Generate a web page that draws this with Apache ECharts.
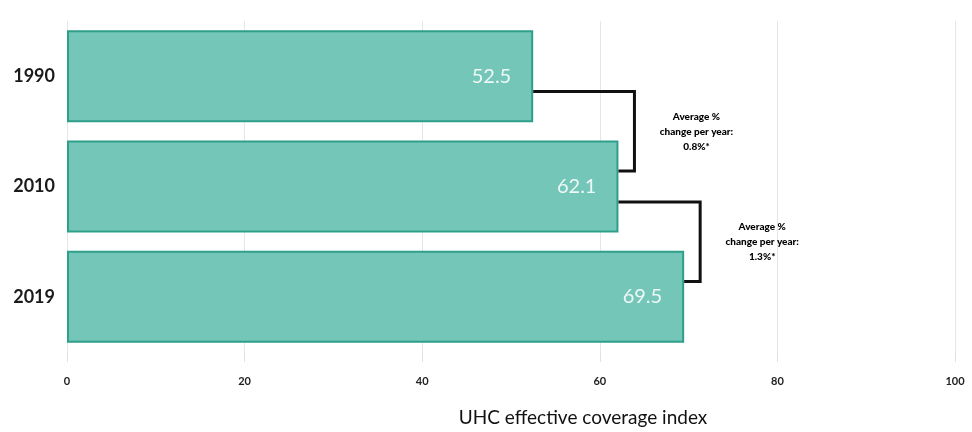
<!DOCTYPE html>
<html lang="en">
	<head>
		<meta charset="UTF-8">
		<title>UHC effective coverage index</title>
		<style>
			html, body { margin: 0; padding: 0; background: #fff; }
		</style>
	</head>
	<body>
		<div id="main" style="width:972px; height:432px;"></div>
		<script src="https://cdn.jsdelivr.net/npm/echarts@6/dist/echarts.min.js"></script>
		<script type="text/javascript">
			// data
			var years = ['1990', '2010', '2019'];
			var coverage = [52.5, 62.1, 69.5];
			var avgChange = ['0.8%*', '1.3%*'];
			var xTicks = [0, 20, 40, 60, 80, 100];

			// one bracket per pair of neighbouring years
			var brackets = avgChange.map(function (t, i) {
				return [coverage[i], coverage[i + 1], i];
			});

			var myChart = echarts.init(document.getElementById('main'));

			function renderBracket(params, api) {
				var a = api.coord([api.value(0), api.value(2)]);
				var b = api.coord([api.value(1), api.value(2) + 1]);
				var band = api.size([0, 1])[1];
				var dy = band * 0.14;
				var xr = Math.max(a[0], b[0]) + 16;
				var y1 = a[1] + dy;
				var y2 = b[1] - dy;
				return {
					type: 'group',
					children: [{
						type: 'polyline',
						shape: { points: [[a[0], y1], [xr, y1], [xr, y2], [b[0], y2]] },
						style: { stroke: '#111', lineWidth: 3, fill: null }
					}, {
						type: 'text',
						x: xr + 62,
						y: (y1 + y2) / 2,
						style: {
							text: 'Average %\nchange per year:\n' + avgChange[params.dataIndex],
							align: 'center',
							verticalAlign: 'middle',
							fontFamily: 'Lato',
							fontWeight: 900,
							fontSize: 10,
							lineHeight: 15,
							fill: '#000'
						}
					}]
				};
			}

			myChart.setOption({
				backgroundColor: '#fff',
				animation: false,
				textStyle: { fontFamily: 'Lato' },
				grid: { left: 67, right: 17, top: 21, bottom: 78 },
				xAxis: {
					type: 'value',
					min: 0,
					max: 100,
					interval: 20,
					name: 'UHC effective coverage index',
					nameLocation: 'middle',
					nameGap: 56,
					nameTextStyle: { fontSize: 19, color: '#111', padding: [0, 0, 0, 144] },
					axisLine: { show: false },
					axisTick: { show: true, length: 10, lineStyle: { color: '#e2e2e2' } },
					axisLabel: {
						margin: 24,
						fontSize: 11,
						fontWeight: 'bold',
						color: '#222',
						formatter: function (v) { return xTicks.indexOf(v) >= 0 ? String(v) : ''; }
					},
					splitLine: { show: true, lineStyle: { color: '#e6e6e6', width: 1 } }
				},
				yAxis: {
					type: 'category',
					data: years,
					inverse: true,
					axisLine: { show: false },
					axisTick: { show: false },
					axisLabel: { margin: 12, fontSize: 18, fontWeight: 'bold', color: '#1a1a1a' }
				},
				series: [{
					type: 'bar',
					data: coverage,
					barWidth: 92,
					itemStyle: {
						color: '#74c6b9',
						borderColor: '#2f9f8a',
						borderWidth: 2
					},
					label: {
						show: true,
						position: 'insideRight',
						distance: 22,
						fontSize: 20,
						color: '#eef8f6',
						formatter: function (p) { return p.value.toFixed(1); }
					}
				}, {
					type: 'custom',
					data: brackets,
					encode: { x: [0, 1], y: 2 },
					clip: false,
					z: 5,
					renderItem: renderBracket
				}]
			});
		</script>
	</body>
</html>
